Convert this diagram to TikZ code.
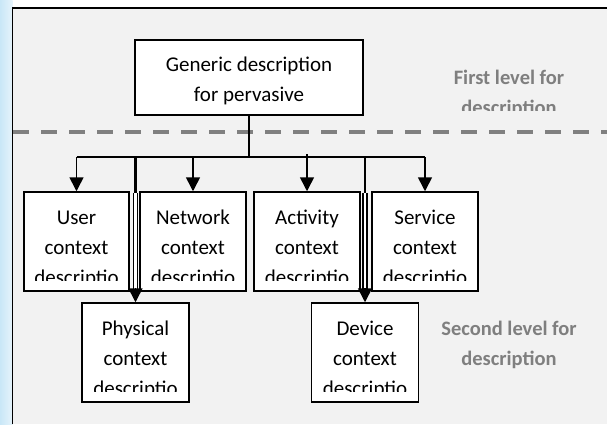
\documentclass[tikz,border=0pt]{standalone}
\usepackage{fontspec}
\setmainfont{Carlito}
\usetikzlibrary{arrows.meta}
\definecolor{panel}{HTML}{F2F2F2}
\definecolor{greytxt}{HTML}{7F7F7F}
\definecolor{dashgrey}{HTML}{808080}
\definecolor{skyA}{HTML}{C9E7F7}
\definecolor{skyB}{HTML}{E6F4FB}
\newcommand{\tlines}[1]{\begin{tabular}[t]{@{}c@{}}#1\end{tabular}}
\begin{document}
\begin{tikzpicture}[x=1pt,y=-1pt,
  box/.style={draw=black, line width=1.5pt, fill=white, inner sep=0pt},
  topbox/.style={box, minimum width=105pt, minimum height=99pt},
  lowbox/.style={box, minimum width=107pt, minimum height=99pt},
  boxtext/.style={anchor=base, inner sep=0pt, font=\fontsize{21}{30}\selectfont},
  leveltext/.style={anchor=base, inner sep=0pt, text=greytxt, font=\fontsize{20.5}{30}\selectfont\bfseries},
  conn/.style={line width=1.6pt, draw=black},
  arr/.style={conn, -{Triangle[length=14pt,width=14pt]}},
  dbl/.style={line width=1.6pt, draw=black, double=white, double distance=2.2pt},
  coverw/.style={fill=white},
  coverp/.style={fill=panel},
]
\useasboundingbox (0,0) rectangle (607,424);
% background
\fill[white] (0,0) rectangle (607,424);
\shade[left color=skyA, right color=skyB] (0,0) rectangle (12.5,424);
\fill[panel] (12.5,8) rectangle (607,424);
\draw[line width=1.8pt] (12.5,424) -- (12.5,8) -- (607,8);
% dashed separator
\draw[dashgrey, line width=3.5pt, dash pattern=on 16pt off 12pt] (13,132) -- (607,132);

% level labels
\node[leveltext] (firstT) at (509,84) {\tlines{First level for\\description}};
\fill[coverp] (430,111) rectangle (590,127);
\node[leveltext] (secondT) at (509,335) {\tlines{Second level for\\description}};

% boxes
\node[box, minimum width=228pt, minimum height=75pt] (gen) at (249,77.5) {};
\node[boxtext] (genT) at (249,71) {\tlines{Generic description\\for pervasive}};

\node[topbox] (user) at (76.5,241.5) {};
\node[topbox, minimum width=106pt] (net) at (193,241.5) {};
\node[topbox, minimum width=106pt] (act) at (307,241.5) {};
\node[topbox, minimum width=106pt] (serv) at (425,241.5) {};
\node[lowbox] (phys) at (135.5,352.5) {};
\node[lowbox] (dev) at (365,352.5) {};

\node[boxtext] (userT) at (76.5,224) {\tlines{User\\context\\descriptio}};
\node[boxtext] (netT) at (193,224) {\tlines{Network\\context\\descriptio}};
\node[boxtext] (actT) at (307,224) {\tlines{Activity\\context\\descriptio}};
\node[boxtext] (servT) at (425,224) {\tlines{Service\\context\\descriptio}};
\node[boxtext] (physT) at (135.5,335) {\tlines{Physical\\context\\descriptio}};
\node[boxtext] (devT) at (365,335) {\tlines{Device\\context\\descriptio}};

% clipped last lines
\fill[coverw] (24.8,280.5) rectangle (128.2,290.2);
\fill[coverw] (140.8,280.5) rectangle (245.2,290.2);
\fill[coverw] (254.8,280.5) rectangle (359.2,290.2);
\fill[coverw] (372.8,280.5) rectangle (477.2,290.2);
\fill[coverw] (82.8,391.5) rectangle (188.2,401.2);
\fill[coverw] (312.3,391.5) rectangle (417.7,401.2);

% connectors
\coordinate (busL) at (76.5,157);
\coordinate (busR) at (425,157);
\coordinate (physMid) at (135.5,193);
\coordinate (devMid) at (365,193);
\draw[conn] (gen.south) -- (gen.south |- busL);
\draw[conn] (busL) -- (busR);
\draw[arr] (user.north |- busL) -- (user.north);
\draw[arr] (net.north |- busL) -- (net.north);
\draw[arr] ([yshift=3pt]act.north |- busL) -- (act.north);
\draw[arr] (serv.north |- busL) -- (serv.north);

\draw[conn, line width=2.2pt] (phys.north |- busL) -- (physMid);
\draw[dbl] (physMid) -- ([yshift=13pt]phys.north);
\draw[arr] ([yshift=14pt]phys.north) -- (phys.north);
\draw[conn, line width=2.2pt] (dev.north |- busL) -- (devMid);
\draw[dbl] (devMid) -- ([yshift=13pt]dev.north);
\draw[arr] ([yshift=14pt]dev.north) -- (dev.north);
\end{tikzpicture}
\end{document}
